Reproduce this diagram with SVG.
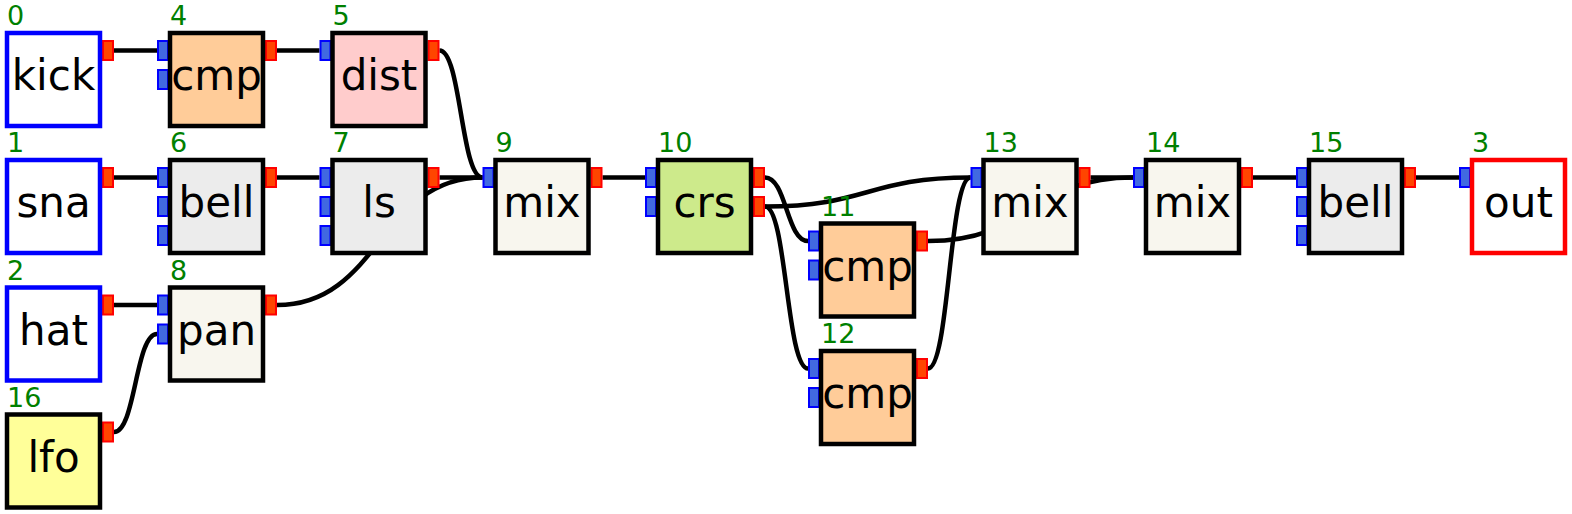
<svg xmlns="http://www.w3.org/2000/svg" width="1572" height="514" viewBox="0 0 1572 514">
<style>
.bx{stroke:#000;stroke-width:4.5}
.src{fill:#fff;stroke:#0000ff;stroke-width:4.5}
.snk{fill:#fff;stroke:#ff0000;stroke-width:4.5}
.cmp{fill:#ffcc99}.dist{fill:#ffcccc}.eq{fill:#ececec}.mix{fill:#f8f6ee}.crs{fill:#cdea8b}.lfo{fill:#ffff99}
.ip{fill:#4169e1;stroke:#0000ff;stroke-width:2}
.op{fill:#ff4500;stroke:#ff0000;stroke-width:2}
.lb{font-family:"DejaVu Sans",sans-serif;font-size:42px;text-anchor:middle;fill:#000}
.nm{font-family:"DejaVu Sans",sans-serif;font-size:27px;fill:#008000}
#wires path{fill:none;stroke:#000;stroke-width:4.5}
</style>
<g id="wires">
<path d="M114,50.5 L157,50.5"/>
<path d="M277,50.5 L319.5,50.5"/>
<path d="M439.5,50.5 C461,50.5 461,177.5 482.5,177.5"/>
<path d="M114,177.5 L157,177.5"/>
<path d="M277,177.5 L319.5,177.5"/>
<path d="M439.5,177.5 L482.5,177.5"/>
<path d="M114,305 L157,305"/>
<path d="M114,432 C135.5,432 135.5,334 157,334"/>
<path d="M277,305 C379.75,305 379.75,177.5 482.5,177.5"/>
<path d="M602.5,177.5 L645,177.5"/>
<path d="M765,177.5 C786.5,177.5 786.5,241 808,241"/>
<path d="M765,206.5 C786.5,206.5 786.5,368.5 808,368.5"/>
<path d="M765,206.5 C867.75,206.5 867.75,177.5 970.5,177.5"/>
<path d="M928,241 C1030.5,241 1030.5,177.5 1133,177.5"/>
<path d="M928,368.5 C949.25,368.5 949.25,177.5 970.5,177.5"/>
<path d="M1090.5,177.5 L1133,177.5"/>
<path d="M1253,177.5 L1296,177.5"/>
<path d="M1416,177.5 L1459,177.5"/>
</g>
<g id="n0"><rect class="op" x="103" y="41" width="10" height="19"/><rect class="src" x="7" y="33" width="93" height="93"/><text class="lb" x="53.5" y="90.3">kick</text><text class="nm" x="7" y="25">0</text></g>
<g id="n1"><rect class="op" x="103" y="168" width="10" height="19"/><rect class="src" x="7" y="160" width="93" height="93"/><text class="lb" x="53.5" y="217.3">sna</text><text class="nm" x="7" y="152">1</text></g>
<g id="n2"><rect class="op" x="103" y="295.5" width="10" height="19"/><rect class="src" x="7" y="287.5" width="93" height="93"/><text class="lb" x="53.5" y="344.8">hat</text><text class="nm" x="7" y="279.5">2</text></g>
<g id="n16"><rect class="op" x="103" y="422.5" width="10" height="19"/><rect class="bx lfo" x="7" y="414.5" width="93" height="93"/><text class="lb" x="53.5" y="471.8">lfo</text><text class="nm" x="7" y="406.5">16</text></g>
<g id="n4"><rect class="ip" x="158" y="41" width="10" height="19"/><rect class="ip" x="158" y="70" width="10" height="19"/><rect class="op" x="266" y="41" width="10" height="19"/><rect class="bx cmp" x="170" y="33" width="93" height="93"/><text class="lb" x="216.5" y="90.3">cmp</text><text class="nm" x="170" y="25">4</text></g>
<g id="n6"><rect class="ip" x="158" y="168" width="10" height="19"/><rect class="ip" x="158" y="197" width="10" height="19"/><rect class="ip" x="158" y="226" width="10" height="19"/><rect class="op" x="266" y="168" width="10" height="19"/><rect class="bx eq" x="170" y="160" width="93" height="93"/><text class="lb" x="216.5" y="217.3">bell</text><text class="nm" x="170" y="152">6</text></g>
<g id="n8"><rect class="ip" x="158" y="295.5" width="10" height="19"/><rect class="ip" x="158" y="324.5" width="10" height="19"/><rect class="op" x="266" y="295.5" width="10" height="19"/><rect class="bx mix" x="170" y="287.5" width="93" height="93"/><text class="lb" x="216.5" y="344.8">pan</text><text class="nm" x="170" y="279.5">8</text></g>
<g id="n5"><rect class="ip" x="320.5" y="41" width="10" height="19"/><rect class="op" x="428.5" y="41" width="10" height="19"/><rect class="bx dist" x="332.5" y="33" width="93" height="93"/><text class="lb" x="379" y="90.3">dist</text><text class="nm" x="332.5" y="25">5</text></g>
<g id="n7"><rect class="ip" x="320.5" y="168" width="10" height="19"/><rect class="ip" x="320.5" y="197" width="10" height="19"/><rect class="ip" x="320.5" y="226" width="10" height="19"/><rect class="op" x="428.5" y="168" width="10" height="19"/><rect class="bx eq" x="332.5" y="160" width="93" height="93"/><text class="lb" x="379" y="217.3">ls</text><text class="nm" x="332.5" y="152">7</text></g>
<g id="n9"><rect class="ip" x="483.5" y="168" width="10" height="19"/><rect class="op" x="591.5" y="168" width="10" height="19"/><rect class="bx mix" x="495.5" y="160" width="93" height="93"/><text class="lb" x="542" y="217.3">mix</text><text class="nm" x="495.5" y="152">9</text></g>
<g id="n10"><rect class="ip" x="646" y="168" width="10" height="19"/><rect class="ip" x="646" y="197" width="10" height="19"/><rect class="op" x="754" y="168" width="10" height="19"/><rect class="op" x="754" y="197" width="10" height="19"/><rect class="bx crs" x="658" y="160" width="93" height="93"/><text class="lb" x="704.5" y="217.3">crs</text><text class="nm" x="658" y="152">10</text></g>
<g id="n11"><rect class="ip" x="809" y="231.5" width="10" height="19"/><rect class="ip" x="809" y="260.5" width="10" height="19"/><rect class="op" x="917" y="231.5" width="10" height="19"/><rect class="bx cmp" x="821" y="223.5" width="93" height="93"/><text class="lb" x="867.5" y="280.8">cmp</text><text class="nm" x="821" y="215.5">11</text></g>
<g id="n12"><rect class="ip" x="809" y="359" width="10" height="19"/><rect class="ip" x="809" y="388" width="10" height="19"/><rect class="op" x="917" y="359" width="10" height="19"/><rect class="bx cmp" x="821" y="351" width="93" height="93"/><text class="lb" x="867.5" y="408.3">cmp</text><text class="nm" x="821" y="343">12</text></g>
<g id="n13"><rect class="ip" x="971.5" y="168" width="10" height="19"/><rect class="op" x="1079.5" y="168" width="10" height="19"/><rect class="bx mix" x="983.5" y="160" width="93" height="93"/><text class="lb" x="1030" y="217.3">mix</text><text class="nm" x="983.5" y="152">13</text></g>
<g id="n14"><rect class="ip" x="1134" y="168" width="10" height="19"/><rect class="op" x="1242" y="168" width="10" height="19"/><rect class="bx mix" x="1146" y="160" width="93" height="93"/><text class="lb" x="1192.5" y="217.3">mix</text><text class="nm" x="1146" y="152">14</text></g>
<g id="n15"><rect class="ip" x="1297" y="168" width="10" height="19"/><rect class="ip" x="1297" y="197" width="10" height="19"/><rect class="ip" x="1297" y="226" width="10" height="19"/><rect class="op" x="1405" y="168" width="10" height="19"/><rect class="bx eq" x="1309" y="160" width="93" height="93"/><text class="lb" x="1355.5" y="217.3">bell</text><text class="nm" x="1309" y="152">15</text></g>
<g id="n3"><rect class="ip" x="1460" y="168" width="10" height="19"/><rect class="snk" x="1472" y="160" width="93" height="93"/><text class="lb" x="1518.5" y="217.3">out</text><text class="nm" x="1472" y="152">3</text></g>
</svg>
